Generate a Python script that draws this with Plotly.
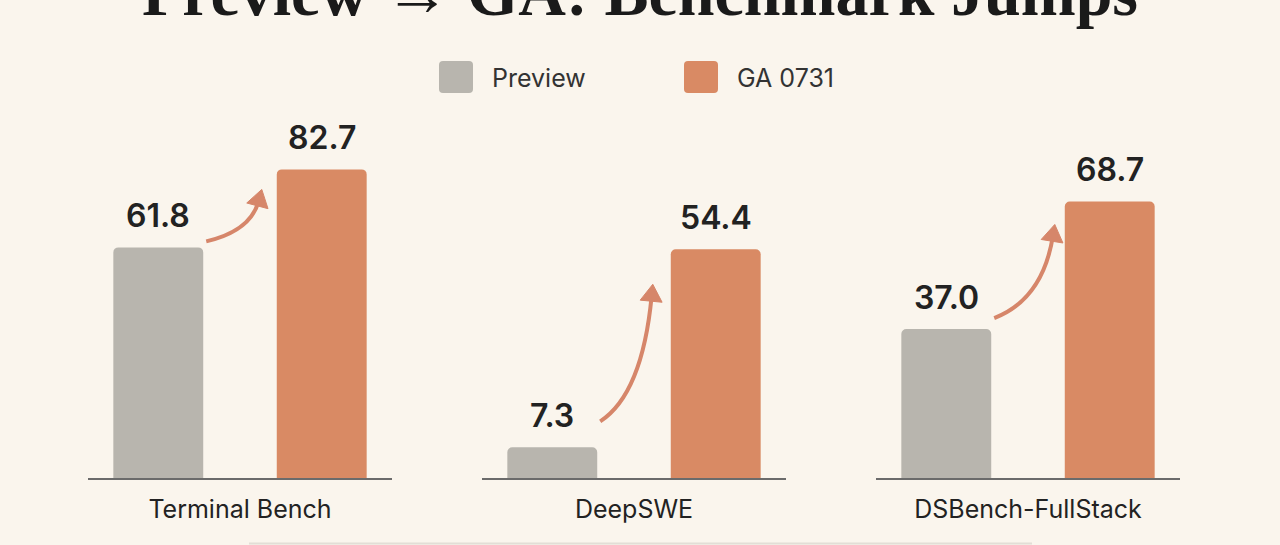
import plotly.graph_objects as go

# values
categories = ["Terminal Bench", "DeepSWE", "DSBench-FullStack"]
preview = [61.8, 7.3, 37.0]
ga = [82.7, 54.4, 68.7]
series_names = ["Preview", "GA 0731"]
title_text = "Preview → GA: Benchmark Jumps"

W, H = 1280, 545
BG = "#FAF5ED"
GRAY = "#B8B5AE"
ORANGE = "#D98A64"
ARROW = "#D6866A"
INK = "#222222"

# layout in pixels
centers_px = [240, 634, 1028]
panel_w = 304
x_range = [-0.43, 1.43]
bar_w = 0.55
base_px, top_px = 478, 100
y_tops = [101.3, 89.9, 93.9]   # each panel has its own scale
# arrow placement per panel, pixels: gap above preview, below GA top, left of GA
arrow_start_gap = [6, 26, 11]
arrow_tip_drop = [20, 35, 23]
arrow_tip_left = [15, 18, 10]


def fx(p):
    return p / W


def fy(p):
    return 1 - p / H


def rounded_rect(x0, y0, x1, y1, r):
    # pixel box -> paper path with rounded corners
    pts = [
        f"M {fx(x0 + r)},{fy(y0)}",
        f"L {fx(x1 - r)},{fy(y0)}",
        f"Q {fx(x1)},{fy(y0)} {fx(x1)},{fy(y0 + r)}",
        f"L {fx(x1)},{fy(y1 - r)}",
        f"Q {fx(x1)},{fy(y1)} {fx(x1 - r)},{fy(y1)}",
        f"L {fx(x0 + r)},{fy(y1)}",
        f"Q {fx(x0)},{fy(y1)} {fx(x0)},{fy(y1 - r)}",
        f"L {fx(x0)},{fy(y0 + r)}",
        f"Q {fx(x0)},{fy(y0)} {fx(x0 + r)},{fy(y0)} Z",
    ]
    return " ".join(pts)


x_scale = panel_w / (x_range[1] - x_range[0])

fig = go.Figure()
shapes = []
annotations = []
axes = {}

for i, cat in enumerate(categories):
    n = "" if i == 0 else str(i + 1)
    xa, ya = "x" + n, "y" + n
    for xpos, vals, color in [(0, preview, GRAY), (1, ga, ORANGE)]:
        fig.add_trace(go.Bar(
            x=[xpos], y=[vals[i]], width=bar_w,
            marker=dict(color=color, cornerradius=5, line=dict(width=0)),
            xaxis=xa, yaxis=ya, showlegend=False, hoverinfo="skip",
        ))
        annotations.append(dict(
            x=xpos, y=vals[i], xref=xa, yref=ya, text=f"{vals[i]:.1f}",
            showarrow=False, yanchor="bottom", yshift=10,
            font=dict(family="Inter", size=32, weight=600, color=INK),
        ))

    c = centers_px[i]
    axes["xaxis" + n] = dict(
        domain=[fx(c - panel_w / 2), fx(c + panel_w / 2)], anchor=ya,
        range=x_range, showgrid=False, zeroline=False,
        showline=True, linecolor="#6B6B6B", linewidth=2,
        tickvals=[0.5], ticktext=[cat], ticks="", ticklabelstandoff=8,
        tickfont=dict(family="Inter", size=25, color=INK), fixedrange=True,
    )
    axes["yaxis" + n] = dict(
        domain=[fy(base_px), fy(top_px)], anchor=xa, range=[0, y_tops[i]],
        visible=False, fixedrange=True,
    )

    # curved arrow from preview to GA (built in pixels, then back to data)
    s_y = (base_px - top_px) / y_tops[i]
    sx, sy = bar_w / 2 + 3 / x_scale, preview[i] + arrow_start_gap[i] / s_y
    tx = 1 - bar_w / 2 - arrow_tip_left[i] / x_scale
    ty = ga[i] - arrow_tip_drop[i] / s_y
    dx_px, dy_px = (tx - sx) * x_scale, (ty - sy) * s_y
    cx, cy = sx + 0.8 * dx_px / x_scale, sy + 0.2 * dy_px / s_y
    ux, uy = 0.2 * dx_px, 0.8 * dy_px
    ln = (ux ** 2 + uy ** 2) ** 0.5
    ux, uy = ux / ln, uy / ln
    px_, py_ = -uy, ux

    def to_data(ox, oy):
        return tx + ox / x_scale, ty + oy / s_y

    ex, ey = to_data(-12 * ux, -12 * uy)
    shapes.append(dict(
        type="path", xref=xa, yref=ya,
        path=f"M {sx},{sy} Q {cx},{cy} {ex},{ey}",
        line=dict(color=ARROW, width=4),
    ))
    head_len, head_half = 17, 11
    a = to_data(0, 0)
    b = to_data(-head_len * ux + head_half * px_, -head_len * uy + head_half * py_)
    d = to_data(-head_len * ux - head_half * px_, -head_len * uy - head_half * py_)
    shapes.append(dict(
        type="path", xref=xa, yref=ya,
        path=f"M {a[0]},{a[1]} L {b[0]},{b[1]} L {d[0]},{d[1]} Z",
        fillcolor=ARROW, line=dict(color=ARROW, width=1),
    ))

# legend drawn by hand (large rounded swatches)
legend_px = [(439, 490), (684, 735)]
for (sw_x, tx_x), name, color in zip(legend_px, series_names, [GRAY, ORANGE]):
    shapes.append(dict(
        type="path", xref="paper", yref="paper",
        path=rounded_rect(sw_x, 61, sw_x + 34, 93, 4),
        fillcolor=color, line=dict(width=0),
    ))
    annotations.append(dict(
        x=fx(tx_x), y=fy(78), xref="paper", yref="paper", text=name,
        showarrow=False, xanchor="left", yanchor="middle",
        font=dict(family="Inter", size=25, color="#333333"),
    ))

# title (cut off at the top, as in the reference)
annotations.append(dict(
    x=0.5, y=fy(31), xref="paper", yref="paper", text=title_text,
    showarrow=False, xanchor="center", yanchor="bottom",
    font=dict(family="Liberation Serif", size=66, weight="bold", color="#1A1A1A"),
))

# faint edge of a box at the bottom
shapes.append(dict(
    type="line", xref="paper", yref="paper",
    x0=fx(249), x1=fx(1032), y0=fy(543.5), y1=fy(543.5),
    line=dict(color="#E2DED6", width=2),
))

fig.update_layout(
    width=W, height=H, margin=dict(l=0, r=0, t=0, b=0),
    paper_bgcolor=BG, plot_bgcolor=BG,
    shapes=shapes, annotations=annotations, showlegend=False,
    **axes,
)

fig.write_html(
    "out.html",
    config={"displayModeBar": False},
    post_script="document.body.style.margin='0';",
)
